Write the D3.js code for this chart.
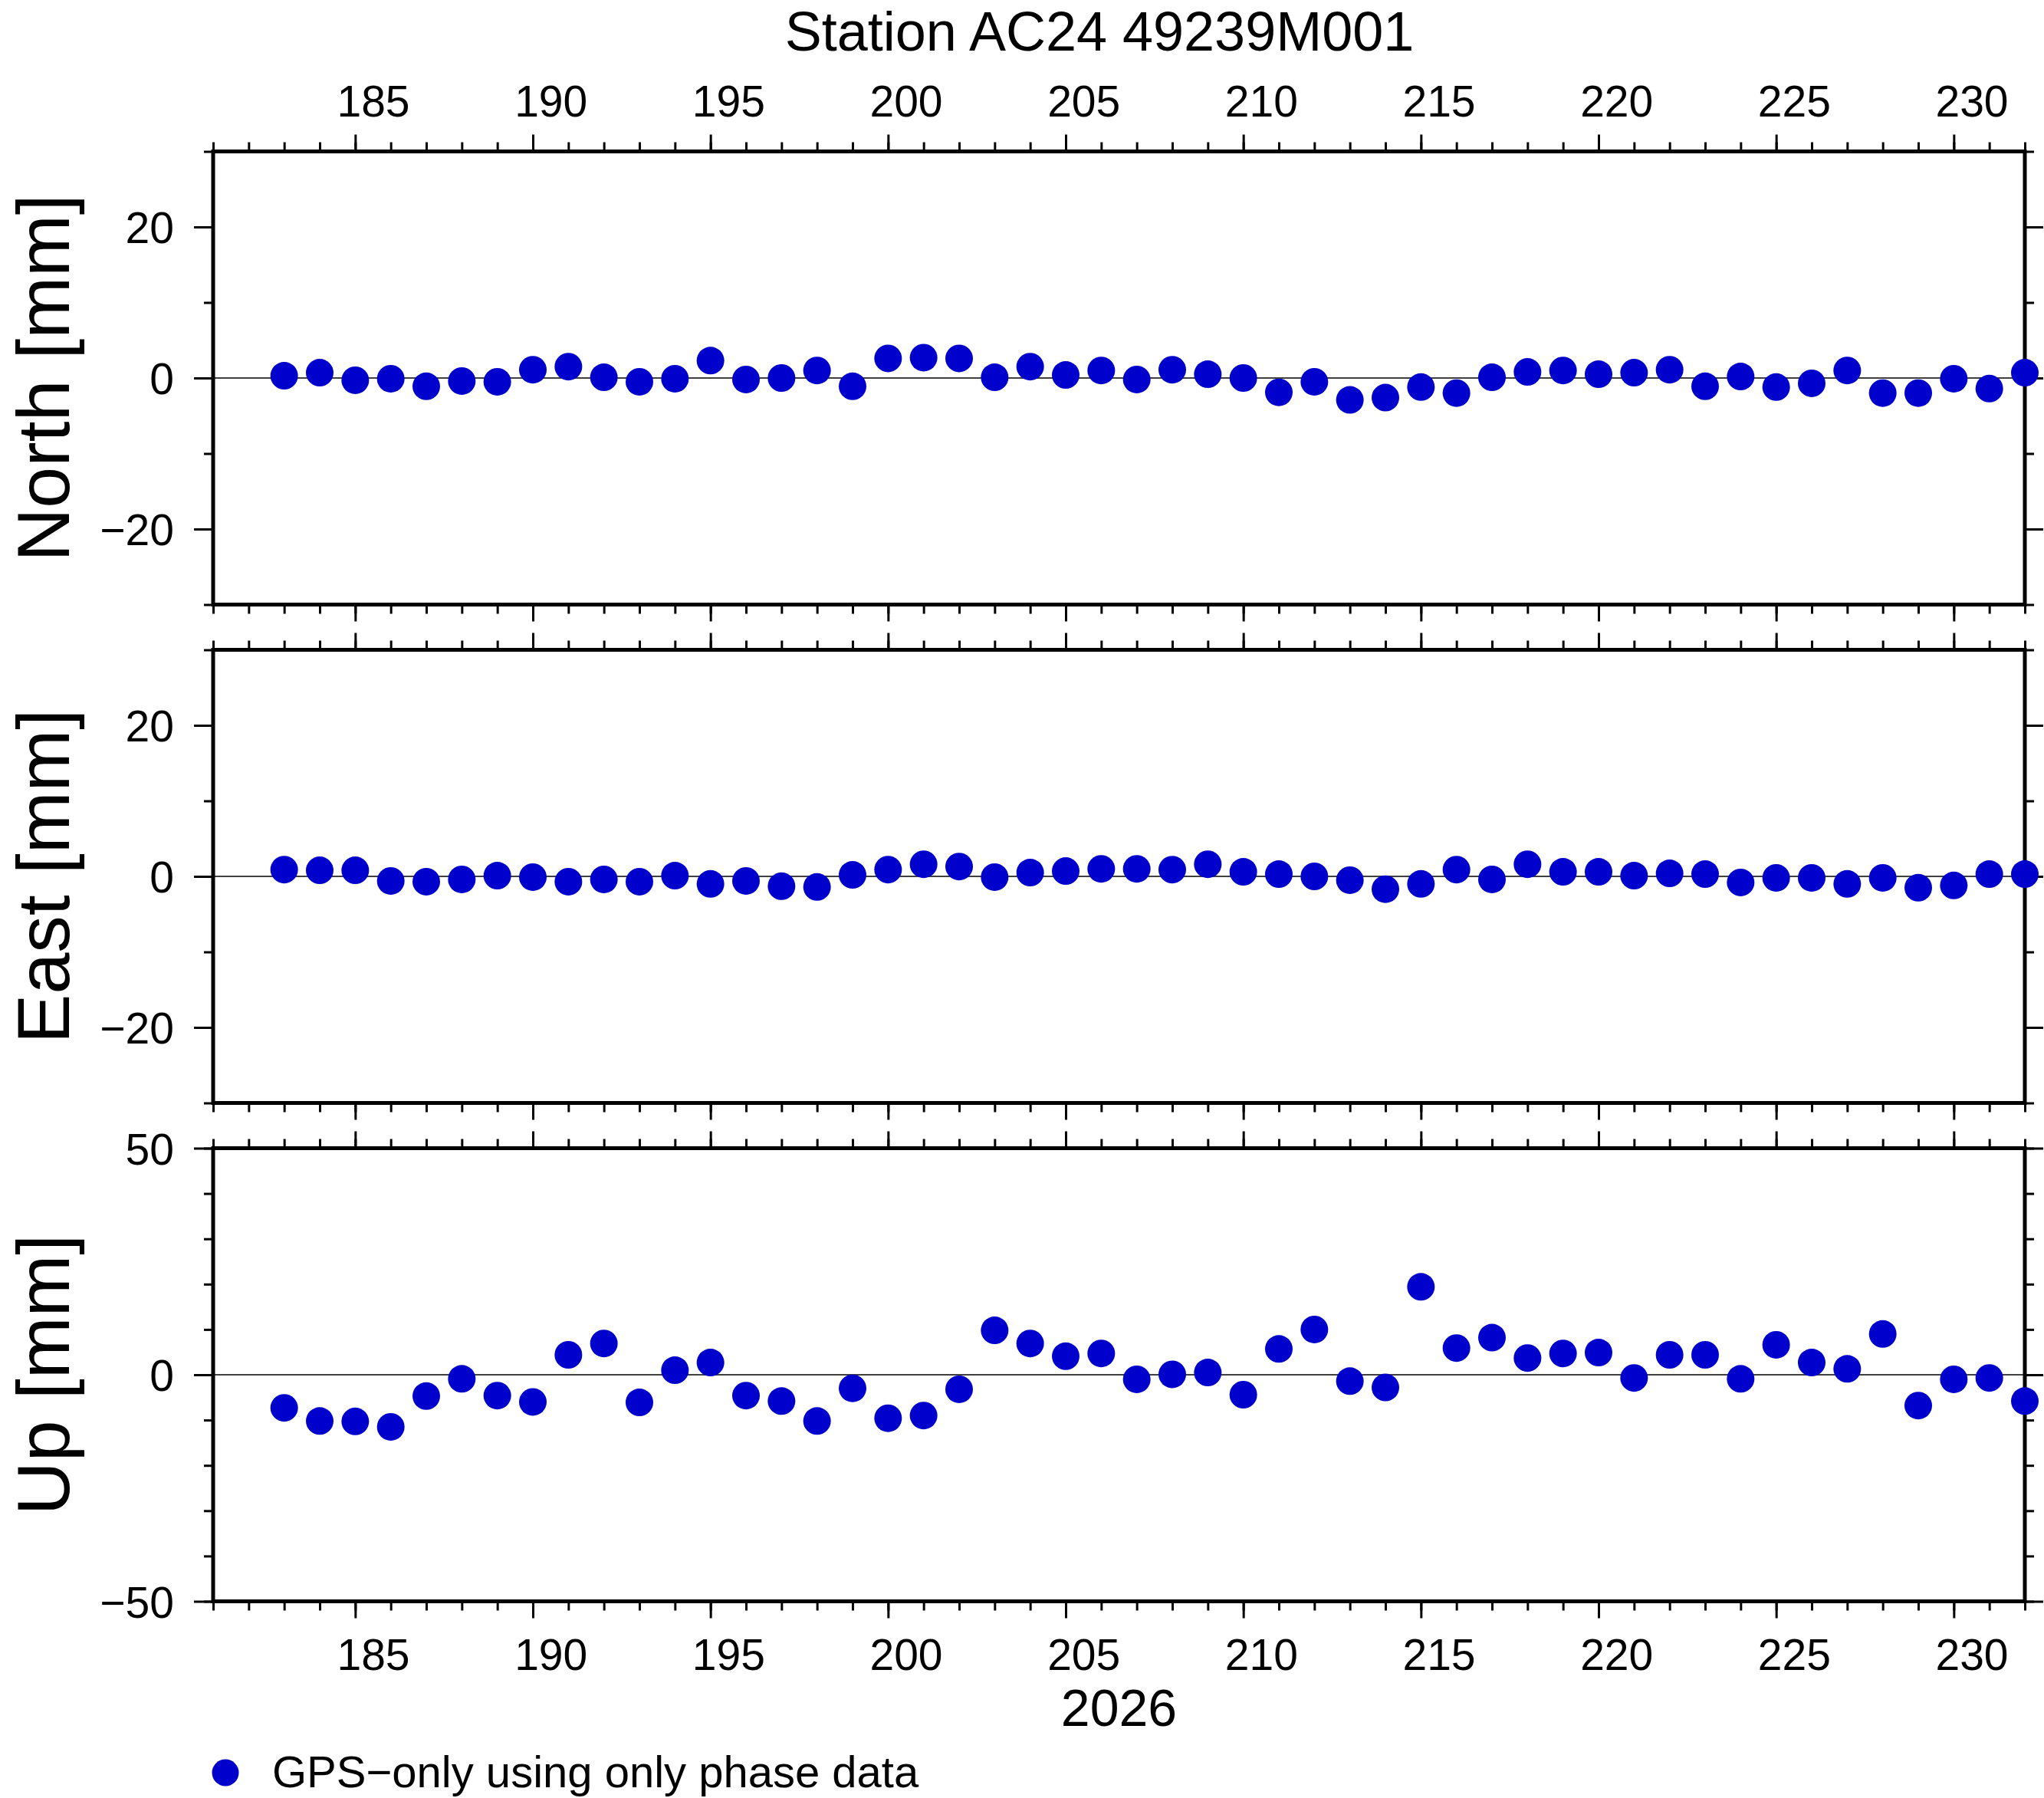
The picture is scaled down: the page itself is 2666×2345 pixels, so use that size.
<!DOCTYPE html>
<html lang="en">
<head>
<meta charset="utf-8">
<title>Station AC24 49239M001</title>
<script src="https://d3js.org/d3.v7.min.js"></script>
<style>
  body { margin: 0; background: #fff; }
  text { font-family: "Liberation Sans", Arial, Helvetica, sans-serif; fill: #000; }
</style>
</head>
<body>
<script>
// day of year 2026
var days = [183, 184, 185, 186, 187, 188, 189, 190, 191, 192,
            193, 194, 195, 196, 197, 198, 199, 200, 201, 202,
            203, 204, 205, 206, 207, 208, 209, 210, 211, 212,
            213, 214, 215, 216, 217, 218, 219, 220, 221, 222,
            223, 224, 225, 226, 227, 228, 229, 230, 231, 232];

// residuals in mm
var north = [0.3, 0.7, -0.3, -0.1, -1.1, -0.4, -0.5, 1.1, 1.5, 0.1,
             -0.5, -0.1, 2.3, -0.2, 0.0, 1.0, -1.1, 2.6, 2.7, 2.6,
             0.1, 1.5, 0.4, 1.0, -0.2, 1.1, 0.5, 0.0, -1.9, -0.5,
             -2.9, -2.6, -1.2, -2.0, 0.1, 0.8, 1.0, 0.5, 0.7, 1.1,
             -1.1, 0.2, -1.2, -0.7, 1.0, -2.0, -2.0, -0.1, -1.4, 0.7];

var east = [0.9, 0.8, 0.8, -0.6, -0.7, -0.4, 0.1, -0.1, -0.7, -0.4,
            -0.7, 0.1, -1.0, -0.6, -1.3, -1.4, 0.2, 0.9, 1.6, 1.3,
            -0.1, 0.5, 0.7, 1.0, 1.0, 0.9, 1.6, 0.6, 0.3, 0.0,
            -0.5, -1.7, -1.0, 0.9, -0.4, 1.6, 0.6, 0.6, 0.1, 0.4,
            0.3, -0.8, -0.2, -0.2, -1.0, -0.2, -1.5, -1.2, 0.3, 0.3];

var up = [-7.3, -10.2, -10.3, -11.5, -4.7, -0.9, -4.6, -6.0, 4.4, 6.9,
          -6.1, 1.0, 2.7, -4.6, -5.8, -10.2, -3.0, -9.6, -9.0, -3.2,
          9.8, 6.9, 4.1, 4.7, -1.0, 0.1, 0.5, -4.4, 5.7, 10.0,
          -1.4, -2.8, 19.4, 5.9, 8.2, 3.7, 4.7, 4.9, -0.7, 4.4,
          4.4, -0.9, 6.6, 2.7, 1.3, 9.0, -6.8, -1.0, -0.7, -5.8];

var xDomain = [181, 232];
var xMajor = [185, 190, 195, 200, 205, 210, 215, 220, 225, 230];

var panels = [
  {label: "North [mm]", values: north, domain: [-30, 30], major: [-20, 0, 20], minor: 10},
  {label: "East [mm]",  values: east,  domain: [-30, 30], major: [-20, 0, 20], minor: 10},
  {label: "Up [mm]",    values: up,    domain: [-50, 50], major: [-50, 0, 50], minor: 10}
];

var title = "Station AC24 49239M001";
var yearLabel = "2026";
var legendLabel = "GPS\u2212only using only phase data";

var W = 2666, H = 2345;
var left = 278, right = 2641;
var top0 = 197.5, panelH = 591, step = 650;
var dotColor = "#0000cc";

var svg = d3.select("body").append("svg")
    .attr("width", W).attr("height", H);

var x = d3.scaleLinear().domain(xDomain).range([left, right]);
var xMinor = d3.range(xDomain[0], xDomain[1] + 1);

function fmt(d) { return d < 0 ? "\u2212" + Math.abs(d) : String(d); }

function styleAxis(g) {
  g.select(".domain").remove();
  g.selectAll("line").attr("stroke", "#000").attr("stroke-width", 3);
}

panels.forEach(function (p, i) {
  var top = top0 + i * step, bottom = top + panelH;
  var y = d3.scaleLinear().domain(p.domain).range([bottom, top]);
  var yMinor = d3.range(p.domain[0], p.domain[1] + p.minor, p.minor);
  var g = svg.append("g");

  // x ticks, top and bottom of each panel
  g.append("g").attr("transform", "translate(0," + top + ")")
      .call(d3.axisTop(x).tickValues(xMinor).tickSize(12).tickFormat("")).call(styleAxis);
  g.append("g").attr("transform", "translate(0," + bottom + ")")
      .call(d3.axisBottom(x).tickValues(xMinor).tickSize(12).tickFormat("")).call(styleAxis);

  var topMaj = g.append("g").attr("transform", "translate(0," + top + ")")
      .call(d3.axisTop(x).tickValues(xMajor).tickSize(22).tickPadding(23.5)
        .tickFormat(i === 0 ? d3.format("d") : "")).call(styleAxis);
  var botMaj = g.append("g").attr("transform", "translate(0," + bottom + ")")
      .call(d3.axisBottom(x).tickValues(xMajor).tickSize(22).tickPadding(27.5)
        .tickFormat(i === 2 ? d3.format("d") : "")).call(styleAxis);
  // GMT puts day labels in the middle of the day interval
  [topMaj, botMaj].forEach(function (a) {
    a.selectAll("text").attr("font-size", 57).attr("fill", "#000")
      .attr("font-family", null)
      .attr("dx", (x(1) - x(0)) / 2);
  });

  // y ticks, left and right
  g.append("g").attr("transform", "translate(" + left + ",0)")
      .call(d3.axisLeft(y).tickValues(yMinor).tickSize(12).tickFormat("")).call(styleAxis);
  g.append("g").attr("transform", "translate(" + right + ",0)")
      .call(d3.axisRight(y).tickValues(yMinor).tickSize(12).tickFormat("")).call(styleAxis);
  g.append("g").attr("transform", "translate(" + right + ",0)")
      .call(d3.axisRight(y).tickValues(p.major).tickSize(24).tickFormat("")).call(styleAxis);
  var yl = g.append("g").attr("transform", "translate(" + left + ",0)")
      .call(d3.axisLeft(y).tickValues(p.major).tickSize(25).tickPadding(26).tickFormat(fmt))
      .call(styleAxis);
  yl.selectAll("text").attr("font-size", 57).attr("fill", "#000")
    .attr("font-family", null).attr("dy", "0.36em");

  // zero line
  g.append("line")
    .attr("x1", left).attr("x2", right)
    .attr("y1", y(0)).attr("y2", y(0))
    .attr("stroke", "#000").attr("stroke-width", 1.5);

  // frame
  g.append("rect")
    .attr("x", left).attr("y", top)
    .attr("width", right - left).attr("height", panelH)
    .attr("fill", "none").attr("stroke", "#000").attr("stroke-width", 5);

  // y label
  g.append("text")
    .attr("transform", "translate(90," + (top + panelH / 2) + ") rotate(-90)")
    .attr("text-anchor", "middle")
    .attr("font-size", 97)
    .text(p.label);

  // points
  g.selectAll("circle.pt").data(days).enter().append("circle")
    .attr("class", "pt")
    .attr("cx", function (d) { return x(d); })
    .attr("cy", function (d, k) { return y(p.values[k]); })
    .attr("r", 18)
    .attr("fill", dotColor);
});

svg.append("text")
  .attr("x", 1434).attr("y", 66)
  .attr("text-anchor", "middle")
  .attr("font-size", 72)
  .text(title);

svg.append("text")
  .attr("x", (left + right) / 2).attr("y", 2251)
  .attr("text-anchor", "middle")
  .attr("font-size", 68)
  .text(yearLabel);

// legend
var legend = svg.append("g").attr("transform", "translate(294,2312)");
legend.append("circle").attr("r", 17.5).attr("fill", dotColor);
legend.append("text")
  .attr("x", 61).attr("y", 19)
  .attr("font-size", 58)
  .text(legendLabel);
</script>
</body>
</html>
